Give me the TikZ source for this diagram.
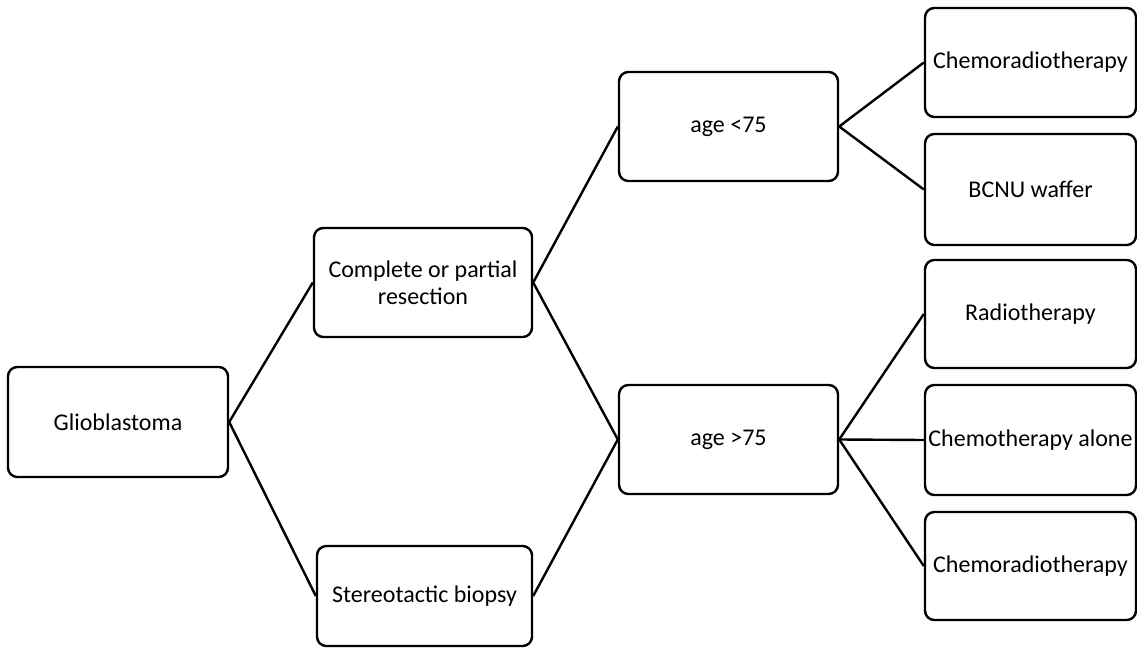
\documentclass[tikz,border=0pt]{standalone}
\usepackage{fontspec}
\setmainfont{Carlito}
\usetikzlibrary{positioning}

\begin{document}
\begin{tikzpicture}[x=0.75pt, y=-0.75pt]
                \tikzset{
                    stagebox/.style={rectangle, draw=black, line width=1.8pt, rounded corners=7pt,
                        minimum width=218*0.75pt, minimum height=109*0.75pt, align=center,
                        font=\fontsize{18}{20.5}\selectfont, inner sep=2pt},
                    treatbox/.style={stagebox, minimum width=211*0.75pt},
                    branch/.style={line width=1.8pt},
                }
                \useasboundingbox (0,0) rectangle (1137,648);

                % Diagnosis and surgery
                \node[stagebox, minimum width=220*0.75pt, minimum height=110*0.75pt] (glio) at (118,422) {Glioblastoma};
                \node[stagebox] (resect) at (423,282.5) {Complete or partial\\resection};
                \node[stagebox, minimum width=215*0.75pt, minimum height=100*0.75pt] (biopsy) at (424.5,596) {Stereotactic biopsy};

                % Age groups
                \node[stagebox, minimum width=219*0.75pt] (young) at (728.5,126.5) {age <75};
                \node[stagebox, minimum width=219*0.75pt] (old) at (728.5,439.5) {age >75};

                % Treatments
                \node[treatbox] (chemorad1) at (1030.5,62.5) {Chemoradiotherapy};
                \node[treatbox, minimum height=111*0.75pt] (bcnu) at (1030.5,189.5) {BCNU waffer};
                \node[treatbox, minimum height=108*0.75pt] (radio) at (1030.5,314) {Radiotherapy};
                \node[treatbox, minimum height=110*0.75pt] (alone) at (1030.5,440) {Chemotherapy alone};
                \node[treatbox, minimum height=108*0.75pt] (chemorad2) at (1030.5,566) {Chemoradiotherapy};

                % Branches
                \draw[branch] (resect.west) -- (glio.east) -- (biopsy.west);
                \draw[branch] (young.west) -- (resect.east) -- (old.west) -- (biopsy.east);
                \draw[branch] (chemorad1.west) -- (young.east) -- (bcnu.west);
                \draw[branch] (radio.west) -- (old.east) -- (chemorad2.west);
                \draw[branch] (old.east) -- (alone.west);
            \end{tikzpicture}
\end{document}
